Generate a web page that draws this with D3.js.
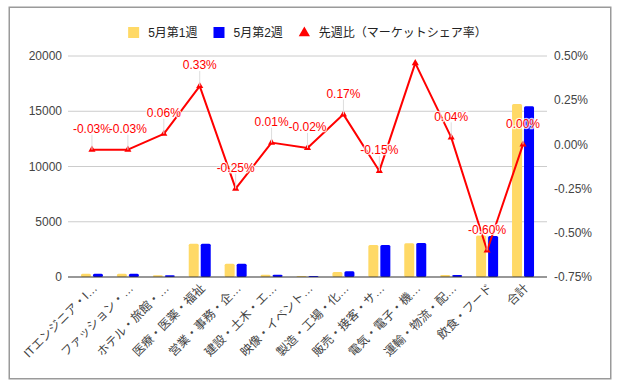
<!DOCTYPE html>
<html>
<head>
<meta charset="utf-8">
<script src="https://cdn.jsdelivr.net/npm/d3@7"></script>
<style>
  body { margin: 0; background: #fff; }
  svg text { font-family: "Liberation Sans", Arial, "Noto Sans CJK JP", sans-serif; }
</style>
</head>
<body>
<div id="chart"></div>
<script>
  // data
  var categories = [
    'ITエンジニア・I…', 'ファッション・…', 'ホテル・旅館・…', '医療・医薬・福祉',
    '営業・事務・企…', '建設・土木・エ…', '映像・イベント…', '製造・工場・化…',
    '販売・接客・サ…', '電気・電子・機…', '運輸・物流・配…', '飲食・フード', '合計'
  ];
  var week1 = [300, 300, 150, 3000, 1200, 200, 100, 450, 2900, 3050, 180, 3750, 15660];
  var week2 = [300, 300, 150, 3000, 1200, 200, 100, 520, 2900, 3080, 180, 3700, 15450];
  var shareDiff = [-0.03, -0.03, 0.06, 0.33, -0.25, 0.01, -0.02, 0.17, -0.15, 0.46, 0.04, -0.60, 0.00];
  var leftTicks = [0, 5000, 10000, 15000, 20000];
  var rightTicks = [-0.75, -0.5, -0.25, 0, 0.25, 0.5];
  var seriesNames = ['5月第1週', '5月第2週', '先週比（マーケットシェア率）'];

  var colors = { w1: '#ffd966', w2: '#0000ff', line: '#ff0000' };
  var W = 619, H = 387;
  var plot = { left: 68, right: 547, top: 56, bottom: 277 };

  // plain hyphen for negatives, like the original
  var pct = d3.formatLocale({ decimal: '.', thousands: ',', grouping: [3], currency: ['', ''], minus: '-' })
    .format('.2f');

  var svg = d3.select('#chart').append('svg')
    .attr('width', W)
    .attr('height', H);

  svg.append('rect')
    .attr('width', W).attr('height', H)
    .attr('fill', '#fff');

  // frame
  svg.append('rect')
    .attr('x', 9.25).attr('y', 7.25)
    .attr('width', 601.5).attr('height', 371.5)
    .attr('fill', 'none')
    .attr('stroke', '#9a9a9a')
    .attr('stroke-width', 1.5);

  var x = d3.scaleBand()
    .domain(categories)
    .range([74, 541]);
  var xInner = d3.scaleBand()
    .domain(['w1', 'w2'])
    .range([0, 22])
    .paddingInner(1 / 6);
  var yLeft = d3.scaleLinear()
    .domain([0, 20000])
    .range([plot.bottom, plot.top]);
  var yRight = d3.scaleLinear()
    .domain([-0.75, 0.5])
    .range([plot.bottom, plot.top]);

  function cx(c) { return x(c) + x.bandwidth() / 2; }

  // gridlines
  svg.append('g').selectAll('line')
    .data(leftTicks.filter(function(t) { return t !== 0; }))
    .enter().append('line')
    .attr('x1', plot.left).attr('x2', plot.right)
    .attr('y1', function(d) { return yLeft(d); })
    .attr('y2', function(d) { return yLeft(d); })
    .attr('stroke', '#cccccc')
    .attr('stroke-width', 1);

  // left axis labels
  svg.append('g').selectAll('text')
    .data(leftTicks)
    .enter().append('text')
    .attr('x', 62)
    .attr('y', function(d) { return yLeft(d); })
    .attr('dy', '0.35em')
    .attr('text-anchor', 'end')
    .attr('font-size', 12)
    .attr('fill', '#444')
    .text(function(d) { return d; });

  // right axis labels
  svg.append('g').selectAll('text')
    .data(rightTicks)
    .enter().append('text')
    .attr('x', 554)
    .attr('y', function(d) { return yRight(d); })
    .attr('dy', '0.35em')
    .attr('text-anchor', 'start')
    .attr('font-size', 12)
    .attr('fill', '#444')
    .text(function(d) { return pct(d) + '%'; });

  // bars
  var barData = [];
  categories.forEach(function(c, i) {
    barData.push({ cat: c, key: 'w1', value: week1[i] });
    barData.push({ cat: c, key: 'w2', value: week2[i] });
  });
  svg.append('g').selectAll('rect')
    .data(barData)
    .enter().append('rect')
    .attr('x', function(d) { return cx(d.cat) - 11 + xInner(d.key); })
    .attr('y', function(d) { return yLeft(d.value); })
    .attr('width', xInner.bandwidth())
    .attr('height', function(d) { return plot.bottom - yLeft(d.value); })
    .attr('rx', 1.5)
    .attr('fill', function(d) { return colors[d.key]; });

  // baseline
  svg.append('line')
    .attr('x1', plot.left).attr('x2', plot.right)
    .attr('y1', yLeft(0)).attr('y2', yLeft(0))
    .attr('stroke', '#333')
    .attr('stroke-width', 1.2);

  // x labels
  svg.append('g').selectAll('text')
    .data(categories)
    .enter().append('text')
    .attr('transform', function(d) {
      return 'translate(' + (cx(d) + 6) + ',289) rotate(-45)';
    })
    .attr('text-anchor', 'end')
    .attr('font-size', 12)
    .attr('fill', '#444')
    .text(function(d) { return d; });

  // line series
  var pts = categories.map(function(c, i) {
    return { x: cx(c), y: yRight(shareDiff[i]), v: shareDiff[i] };
  });

  var ann = svg.append('g');
  pts.forEach(function(p) {
    var ly = p.y - 21;
    if (ly < 48) return; // hidden behind legend, as in the original
    ann.append('line')
      .attr('x1', p.x).attr('x2', p.x)
      .attr('y1', p.y).attr('y2', ly + 6)
      .attr('stroke', '#dddddd')
      .attr('stroke-width', 1);
  });

  svg.append('path')
    .datum(pts)
    .attr('fill', 'none')
    .attr('stroke', colors.line)
    .attr('stroke-width', 2)
    .attr('stroke-linejoin', 'round')
    .attr('d', d3.line().x(function(d) { return d.x; }).y(function(d) { return d.y; }));

  svg.append('g').selectAll('path')
    .data(pts)
    .enter().append('path')
    .attr('transform', function(d) { return 'translate(' + d.x + ',' + d.y + ')'; })
    .attr('d', d3.symbol().type(d3.symbolTriangle).size(22))
    .attr('fill', colors.line);

  pts.forEach(function(p) {
    var ly = p.y - 21;
    if (ly < 48) return;
    ann.append('text')
      .attr('x', p.x)
      .attr('y', ly)
      .attr('dy', '0.35em')
      .attr('text-anchor', 'middle')
      .attr('font-size', 12)
      .attr('fill', colors.line)
      .attr('stroke', '#fff')
      .attr('stroke-width', 2.5)
      .attr('stroke-opacity', 0.8)
      .attr('paint-order', 'stroke')
      .text(pct(p.v) + '%');
  });
  ann.raise();

  // legend
  var legend = svg.append('g');
  var lx = 0, ly = 32.5;
  seriesNames.forEach(function(name, i) {
    var g = legend.append('g').attr('transform', 'translate(' + lx + ',0)');
    if (i < 2) {
      g.append('rect')
        .attr('x', 0).attr('y', ly - 5.5)
        .attr('width', 11).attr('height', 11)
        .attr('fill', i === 0 ? colors.w1 : colors.w2);
    } else {
      g.append('path')
        .attr('transform', 'translate(5.5,' + (ly + 0.5) + ')')
        .attr('d', d3.symbol().type(d3.symbolTriangle).size(55))
        .attr('fill', colors.line);
    }
    var t = g.append('text')
      .attr('x', 20)
      .attr('y', ly)
      .attr('dy', '0.35em')
      .attr('font-size', 12)
      .attr('fill', '#222')
      .text(name);
    lx += 20 + t.node().getComputedTextLength() + 16;
  });
  var lw = lx - 16;
  legend.attr('transform', 'translate(' + ((plot.left + plot.right) / 2 - lw / 2) + ',0)');
</script>
</body>
</html>
